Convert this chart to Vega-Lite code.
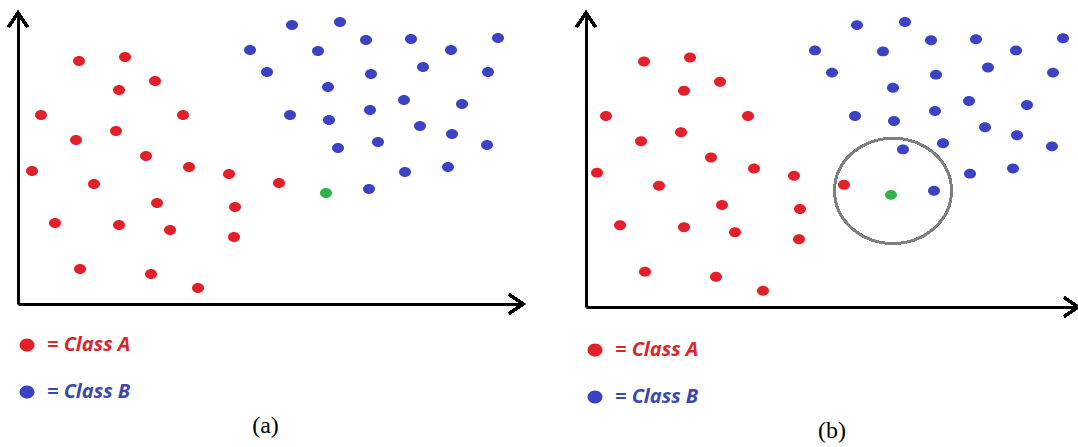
{
  "$schema": "https://vega.github.io/schema/vega-lite/v6.json",
  "padding": {"left": 3, "top": 8, "right": 0, "bottom": 0},
  "background": "white",
  "config": {"view": {"stroke": null}, "axis": {"minExtent": 0, "maxExtent": 0, "labelPadding": 0, "titlePadding": 0}},
  "bounds": "flush",
  "spacing": 63,
  "datasets": {
    "pts": [
      {"x": 61, "y": 243, "cls": "A"}, {"x": 107, "y": 247, "cls": "A"}, {"x": 137, "y": 223, "cls": "A"},
      {"x": 101, "y": 214, "cls": "A"}, {"x": 23, "y": 189, "cls": "A"}, {"x": 165, "y": 189, "cls": "A"},
      {"x": 98, "y": 173, "cls": "A"}, {"x": 58, "y": 164, "cls": "A"}, {"x": 128, "y": 148, "cls": "A"},
      {"x": 14, "y": 133, "cls": "A"}, {"x": 171, "y": 137, "cls": "A"}, {"x": 211, "y": 130, "cls": "A"},
      {"x": 76, "y": 120, "cls": "A"}, {"x": 139, "y": 101, "cls": "A"}, {"x": 217, "y": 97, "cls": "A"},
      {"x": 37, "y": 81, "cls": "A"}, {"x": 101, "y": 79, "cls": "A"}, {"x": 152, "y": 74, "cls": "A"},
      {"x": 216, "y": 67, "cls": "A"}, {"x": 62, "y": 35, "cls": "A"}, {"x": 133, "y": 30, "cls": "A"},
      {"x": 180, "y": 16, "cls": "A"}, {"x": 261, "y": 121, "cls": "A"},
      {"x": 274, "y": 279, "cls": "B"}, {"x": 322, "y": 282, "cls": "B"}, {"x": 348, "y": 264, "cls": "B"},
      {"x": 393, "y": 265, "cls": "B"}, {"x": 480, "y": 266, "cls": "B"}, {"x": 300, "y": 253, "cls": "B"},
      {"x": 433, "y": 254, "cls": "B"}, {"x": 232, "y": 254, "cls": "B"}, {"x": 249, "y": 232, "cls": "B"},
      {"x": 353, "y": 230, "cls": "B"}, {"x": 405, "y": 237, "cls": "B"}, {"x": 470, "y": 232, "cls": "B"},
      {"x": 310, "y": 217, "cls": "B"}, {"x": 386, "y": 204, "cls": "B"}, {"x": 444, "y": 200, "cls": "B"},
      {"x": 272, "y": 189, "cls": "B"}, {"x": 311, "y": 184, "cls": "B"}, {"x": 352, "y": 194, "cls": "B"},
      {"x": 402, "y": 178, "cls": "B"}, {"x": 434, "y": 170, "cls": "B"}, {"x": 469, "y": 159, "cls": "B"},
      {"x": 320, "y": 156, "cls": "B"}, {"x": 360, "y": 162, "cls": "B"}, {"x": 387, "y": 132, "cls": "B"},
      {"x": 430, "y": 137, "cls": "B"}, {"x": 351, "y": 115, "cls": "B"},
      {"x": 308, "y": 111, "cls": "?"}
    ]
  },
  "resolve": {"legend": {"color": "independent"}},
  "hconcat": [
    {
      "width": 505,
      "height": 291,
      "title": {"text": "(a)", "orient": "bottom", "anchor": "middle", "font": "Liberation Serif", "fontSize": 24, "fontWeight": "normal", "color": "black", "offset": 12, "dx": -5},
      "data": {"name": "pts"},
      "encoding": {
        "x": {"field": "x", "type": "quantitative", "scale": {"domain": [0, 505], "nice": false, "zero": false},
              "axis": {"domain": true, "domainColor": "black", "domainWidth": 3, "ticks": false, "labels": false, "grid": false, "title": null}},
        "y": {"field": "y", "type": "quantitative", "scale": {"domain": [0, 291], "nice": false, "zero": false},
              "axis": {"domain": true, "domainColor": "black", "domainWidth": 3, "ticks": false, "labels": false, "grid": false, "title": null}}
      },
      "layer": [
        {
          "mark": {"type": "point", "filled": true, "opacity": 1, "size": 144, "shape": "M-1,0 C-1,-0.46 -0.552,-0.83 0,-0.83 C0.552,-0.83 1,-0.46 1,0 C1,0.46 0.552,0.83 0,0.83 C-0.552,0.83 -1,0.46 -1,0 Z"},
          "encoding": {
            "color": {"field": "cls", "type": "nominal",
              "scale": {"domain": ["A", "B", "?"], "range": ["#e3202a", "#3c42c6", "#2fb24a"]},
              "legend": {"values": ["A", "B"], "orient": "none", "legendX": -1, "legendY": 322, "title": null, "padding": 0,
                "symbolType": "M-1,0 C-1,-0.48 -0.552,-0.87 0,-0.87 C0.552,-0.87 1,-0.48 1,0 C1,0.48 0.552,0.87 0,0.87 C-0.552,0.87 -1,0.48 -1,0 Z",
                "symbolSize": 225, "symbolStrokeWidth": 0, "symbolOpacity": 1,
                "labelFont": "Open Sans", "labelFontSize": 20, "labelFontWeight": "bold", "labelFontStyle": "italic",
                "labelOffset": 10, "rowPadding": 27, "labelExpr": "'= Class ' + datum.label",
                "encode": {"labels": {"update": {"fill": {"signal": "datum.value === 'A' ? '#d8262d' : '#3b48ad'"}}}}}
            }
          }
        },
        {
          "mark": {"type": "point", "filled": false, "stroke": "black", "strokeWidth": 2.5, "size": 361, "shape": "M-1,1.45 L0,0 L1,1.45", "opacity": 1},
          "encoding": {"x": {"datum": 0}, "y": {"datum": 291}}
        },
        {
          "mark": {"type": "point", "filled": false, "stroke": "black", "strokeWidth": 2.5, "size": 361, "shape": "M-1.45,-1 L0,0 L-1.45,1", "opacity": 1},
          "encoding": {"x": {"datum": 505}, "y": {"datum": 0}}
        }
      ]
    },
    {
      "width": 492,
      "height": 294,
      "title": {"text": "(b)", "orient": "bottom", "anchor": "middle", "font": "Liberation Serif", "fontSize": 24, "fontWeight": "normal", "color": "black", "offset": 12},
      "data": {"name": "pts"},
      "encoding": {
        "x": {"field": "x", "type": "quantitative", "scale": {"domain": [3, 495], "nice": false, "zero": false},
              "axis": {"domain": true, "domainColor": "black", "domainWidth": 3, "ticks": false, "labels": false, "grid": false, "title": null}},
        "y": {"field": "y", "type": "quantitative", "scale": {"domain": [0, 291], "nice": false, "zero": false},
              "axis": {"domain": true, "domainColor": "black", "domainWidth": 3, "ticks": false, "labels": false, "grid": false, "title": null}}
      },
      "layer": [
        {
          "mark": {"type": "point", "filled": true, "opacity": 1, "size": 144, "shape": "M-1,0 C-1,-0.46 -0.552,-0.83 0,-0.83 C0.552,-0.83 1,-0.46 1,0 C1,0.46 0.552,0.83 0,0.83 C-0.552,0.83 -1,0.46 -1,0 Z"},
          "encoding": {
            "color": {"field": "cls", "type": "nominal",
              "scale": {"domain": ["A", "B", "?"], "range": ["#e3202a", "#3c42c6", "#2fb24a"]},
              "legend": {"values": ["A", "B"], "orient": "none", "legendX": -1, "legendY": 327, "title": null, "padding": 0,
                "symbolType": "M-1,0 C-1,-0.48 -0.552,-0.87 0,-0.87 C0.552,-0.87 1,-0.48 1,0 C1,0.48 0.552,0.87 0,0.87 C-0.552,0.87 -1,0.48 -1,0 Z",
                "symbolSize": 225, "symbolStrokeWidth": 0, "symbolOpacity": 1,
                "labelFont": "Open Sans", "labelFontSize": 20, "labelFontWeight": "bold", "labelFontStyle": "italic",
                "labelOffset": 10, "rowPadding": 27, "labelExpr": "'= Class ' + datum.label",
                "encode": {"labels": {"update": {"fill": {"signal": "datum.value === 'A' ? '#d8262d' : '#3b48ad'"}}}}}
            }
          }
        },
        {
          "mark": {"type": "point", "filled": false, "stroke": "#7f7f7f", "strokeWidth": 2, "size": 13689, "opacity": 1,
                   "shape": "M-1,0 C-1,-0.497 -0.552,-0.9 0,-0.9 C0.552,-0.9 1,-0.497 1,0 C1,0.497 0.552,0.9 0,0.9 C-0.552,0.9 -1,0.497 -1,0 Z"},
          "encoding": {"x": {"datum": 310}, "y": {"datum": 115}}
        },
        {
          "mark": {"type": "point", "filled": false, "stroke": "black", "strokeWidth": 2.5, "size": 361, "shape": "M-1,1.45 L0,0 L1,1.45", "opacity": 1},
          "encoding": {"x": {"datum": 3}, "y": {"datum": 291}}
        },
        {
          "mark": {"type": "point", "filled": false, "stroke": "black", "strokeWidth": 2.5, "size": 361, "shape": "M-1.45,-1 L0,0 L-1.45,1", "opacity": 1},
          "encoding": {"x": {"datum": 495}, "y": {"datum": 0}}
        }
      ]
    }
  ]
}
